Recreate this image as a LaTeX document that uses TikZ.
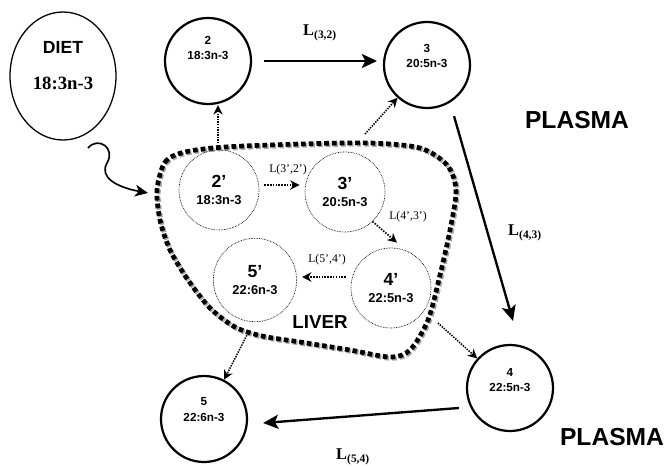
\documentclass[tikz,border=0pt]{standalone}
\usepackage{fontspec}
\setmainfont{Liberation Serif}
\setsansfont{Liberation Sans}
\usetikzlibrary{positioning,shapes.geometric,arrows.meta,calc}
\tikzset{
	dha pathway/.style={
		x=0.03cm,
		y=-0.03cm,
		font=\sffamily\bfseries,
		flux/.style={
			line width=2pt,
			-{Stealth[length=13pt,width=12pt,inset=3pt]}
		},
		conversion/.style={
			line width=1.4pt,
			dash pattern=on 1.3pt off 1.1pt,
			-{Stealth[length=8pt,width=8pt,inset=2.5pt]}
		},
		exchange/.style={% liver to plasma
			line width=1.3pt,
			dash pattern=on 1.2pt off 1pt,
			-{Stealth[length=8pt,width=8pt,inset=2.5pt]}
		},
		intake/.style={
			line width=1.4pt,
			-{Stealth[length=11pt,width=10pt,inset=3pt]}
		}
	},
	diet pool/.style={
		ellipse,
		draw,
		line width=1.1pt,
		minimum width=3.18cm,
		minimum height=3.84cm
	},
	diet name/.style={
		font=\sffamily\bfseries\fontsize{15}{17}\selectfont
	},
	diet acid/.style={
		font=\rmfamily\bfseries\fontsize{16}{18}\selectfont
	},
	plasma pool/.style={
		circle,
		draw,
		line width=1.9pt,
		minimum size=2.58cm,
		inner sep=0pt
	},
	pool text/.style={
		align=center,
		font=\sffamily\bfseries\fontsize{10}{13}\selectfont
	},
	liver pool/.style={
		circle,
		draw,
		line width=0.6pt,
		dash pattern=on 0.6pt off 0.8pt,
		minimum size=2.4cm,
		inner sep=0pt,
		align=center,
		font=\sffamily\bfseries\fontsize{11}{14}\selectfont
	},
	liver wall/.style={
		line width=4pt,
		dash pattern=on 4pt off 2.6pt
	},
	liver shadow/.style={
		liver wall,
		draw=black!35,
		xshift=1.2pt,
		yshift=-1.2pt
	},
	flux label/.style={
		font=\rmfamily\bfseries\fontsize{14}{16}\selectfont
	},
	conversion label/.style={
		font=\rmfamily\fontsize{10}{12}\selectfont
	},
	compartment/.style={
		font=\sffamily\bfseries\fontsize{21}{24}\selectfont
	}
}

\begin{document}
\begin{tikzpicture}[dha pathway]
	\useasboundingbox (0,0) rectangle (669,466);
	% diet
	\node[diet pool] (diet) at (63,76) {};
	\node[diet name] (dietname) at (63,47) {DIET};
	\node[diet acid] (dietacid) at (63,83) {18:3n-3};
	% plasma pools
	\node[plasma pool, label={[pool text,yshift=11pt]center:{2\\18:3n-3}}] (p2) at (208,61) {};
	\node[plasma pool, label={[pool text,yshift=8pt]center:{3\\20:5n-3}}] (p3) at (427,65) {};
	\node[plasma pool, label={[pool text,yshift=7pt]center:{4\\22:5n-3}}] (p4) at (510,388) {};
	\node[plasma pool, label={[pool text,yshift=8pt]center:{5\\22:6n-3}}] (p5) at (204,419) {};
	\node[compartment] (plasmatop) at (577,120) {PLASMA};
	\node[compartment] (plasmabottom) at (612,437) {PLASMA};
	% liver
	\draw[liver shadow] plot[smooth cycle] coordinates {(157,190) (165,162) (185,152) (225,147) (300,144) (370,143) (420,148) (447,165) (456,190) (450,230) (440,275) (428,320) (410,350) (390,357) (350,350) (300,342) (262,336) (235,327) (210,308) (188,280) (170,250) (160,220)};
	\draw[liver wall] plot[smooth cycle] coordinates {(157,190) (165,162) (185,152) (225,147) (300,144) (370,143) (420,148) (447,165) (456,190) (450,230) (440,275) (428,320) (410,350) (390,357) (350,350) (300,342) (262,336) (235,327) (210,308) (188,280) (170,250) (160,220)};
	\node[liver pool] (l2) at (219,190) {{\fontsize{15}{15}\selectfont 2’}\\18:3n-3};
	\node[liver pool] (l3) at (345,192) {{\fontsize{15}{15}\selectfont 3’}\\20:5n-3};
	\node[liver pool] (l4) at (391,288) {{\fontsize{15}{15}\selectfont 4’}\\22:5n-3};
	\node[liver pool, minimum size=2.5cm] (l5) at (255,280) {{\fontsize{15}{15}\selectfont 5’}\\22:6n-3};
	\node[font=\sffamily\bfseries\fontsize{16}{18}\selectfont] (liver) at (320,322) {LIVER};
	% conversions in the liver
	\draw[conversion] ([shift={(5,-5)}]l2.east) -- ([shift={(-5,-5)}]l2.east -| l3.west);
	\node[conversion label] (c32) at (288,170) {L(3’,2’)};
	\draw[conversion] (l3.-47) -- ([shift={(6,-5)}]l4.north);
	\node[conversion label] (c43) at (408,217) {L(4’,3’)};
	\draw[conversion] ([shift={(-5,-11)}]l4.west) -- ([shift={(5,-11)}]l4.west -| l5.east);
	\node[conversion label] (c54) at (327,260) {L(5’,4’)};
	% liver to plasma
	\coordinate (out2) at (218,146);
	\coordinate (out3) at (365,134);
	\coordinate (out4) at (438,323);
	\coordinate (out5) at (248,333);
	\draw[exchange] (out2) -- (out2 |- p2.south);
	\draw[exchange] (out3) -- (p3);
	\draw[exchange] (out4) -- (p4);
	\draw[exchange] (out5) -- (p5);
	% plasma fluxes
	\draw[flux, shorten <=10pt, shorten >=5pt] (p2.east) -- (p2.east -| p3.west);
	\node[flux label] (f32) at (320,33) {L\textsubscript{(3,2)}};
	\draw[flux] ([shift={(5,13)}]p3.-60) -- ([shift={(3,-23)}]p4.north);
	\node[flux label] (f43) at (525,233) {L\textsubscript{(4,3)}};
	\draw[flux] ([shift={(-7,20)}]p4.west) -- ([shift={(15,4)}]p5.east);
	\node[flux label] (f54) at (353,457) {L\textsubscript{(5,4)}};
	% diet intake
	\coordinate (dietout) at (88,148);
	\coordinate (liverin) at (148,193);
	\draw[intake] (dietout) .. controls (98,136) and (116,148) .. (107,163) .. controls (99,177) and (116,187) .. (liverin);
\end{tikzpicture}
\end{document}
